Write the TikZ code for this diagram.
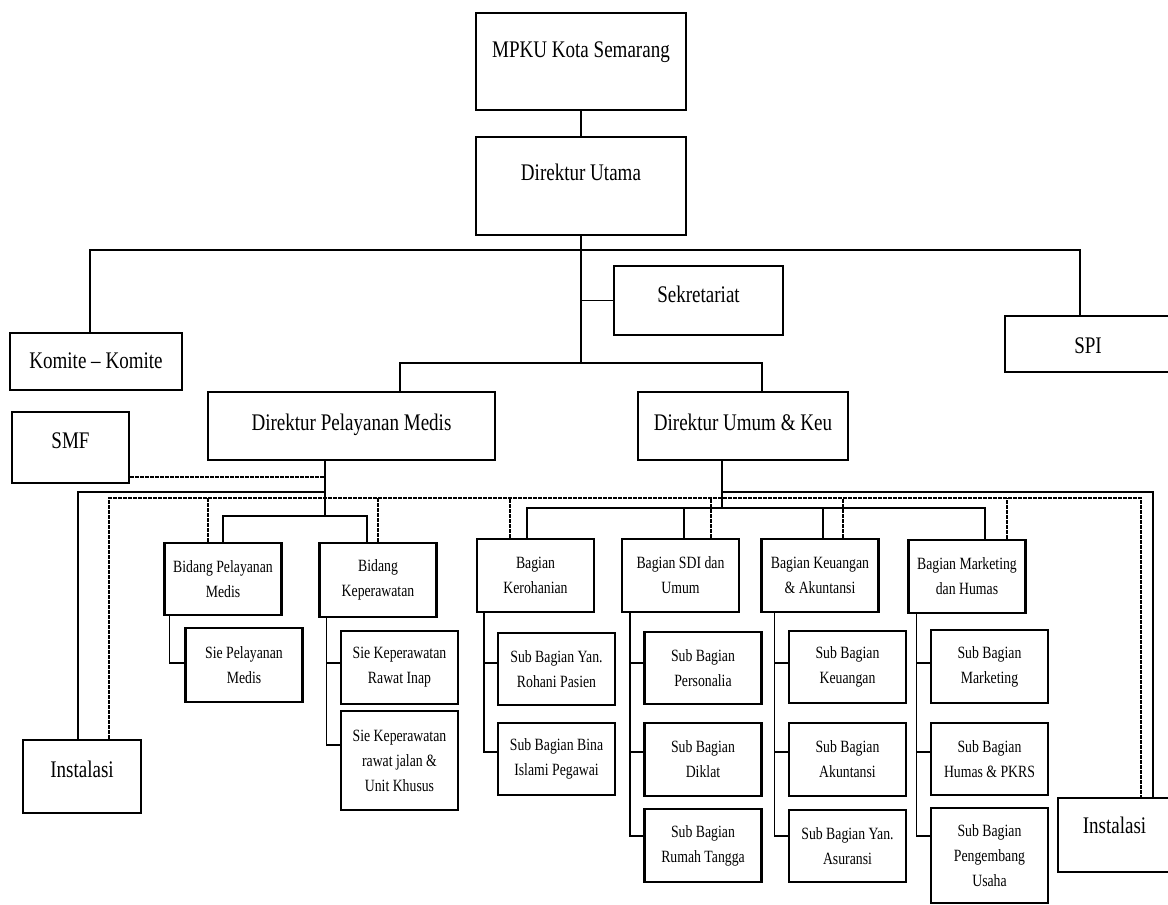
\documentclass[tikz,border=0pt]{standalone}
\usepackage{fontspec}
\setmainfont{Liberation Serif}[FakeStretch=0.8]

\begin{document}
\begin{tikzpicture}[x=0.5pt,y=-0.5pt]
      \tikzstyle{bigbox}=[draw=black,line width=1.2pt,inner xsep=2pt,inner ysep=0pt,font=\fontsize{11.9}{14}\selectfont];
      \tikzstyle{smallbox}=[draw=black,line width=1.2pt,inner sep=0pt,align=center,minimum width=58.5pt,font=\fontsize{8.6}{12.5}\selectfont];
      \tikzstyle{link}=[line width=0.7pt];
      \tikzstyle{dlink}=[line width=0.9pt,dash pattern=on 1.8pt off 0.7pt];

      \useasboundingbox (0,0) rectangle (1168,905);

      \node[bigbox,minimum width=105pt,text height=22pt,text depth=26.5pt](mpku) at (581,61.5) {MPKU Kota Semarang};
      \node[bigbox,minimum width=105pt,text height=21.5pt,text depth=27.5pt](dirut) at (581,186) {Direktur Utama};
      \node[bigbox,minimum width=84.5pt,text height=18pt,text depth=16.5pt](sekre) at (698.5,300.5) {Sekretariat};
      \node[bigbox,minimum width=86pt,text height=17.5pt,text depth=11pt](komite) at (96,361.5) {Komite – Komite};
      \node[bigbox,minimum width=83pt,text height=18.5pt,text depth=9.5pt](spi) at (1088,344) {SPI};
      \node[bigbox,minimum width=143.5pt,text height=19pt,text depth=15pt](dpm) at (351.5,426) {Direktur Pelayanan Medis};
      \node[bigbox,minimum width=105pt,text height=19pt,text depth=15pt](duk) at (743,426) {Direktur Umum \& Keu};
      \node[bigbox,minimum width=58.5pt,text height=18pt,text depth=17.5pt](smf) at (70.5,447.5) {SMF};
      \node[bigbox,minimum width=59pt,text height=18.5pt,text depth=18pt](inst1) at (82,776.5) {Instalasi};
      \node[bigbox,minimum width=56.5pt,text height=17.5pt,text depth=19.5pt](inst2) at (1114.5,835) {Instalasi};

      \node[smallbox,minimum height=36pt](bpm) at (223,579) {Bidang Pelayanan\\Medis};
      \node[smallbox,minimum height=37pt](bkep) at (378,580) {Bidang\\Keperawatan};
      \node[smallbox,minimum height=36.5pt](bkro) at (535.5,575.5) {Bagian\\Kerohanian};
      \node[smallbox,minimum height=36.5pt](bsdi) at (680.5,575.5) {Bagian SDI dan\\Umum};
      \node[smallbox,minimum height=36.5pt](bkeu) at (820,575.5) {Bagian Keuangan\\\& Akuntansi};
      \node[smallbox,minimum height=36.5pt](bmkt) at (967,576.5) {Bagian Marketing\\dan Humas};

      \node[smallbox,minimum height=37pt](siepm) at (244,665) {Sie Pelayanan\\Medis};
      \node[smallbox,minimum height=36.5pt](siekri) at (399.5,667.5) {Sie Keperawatan\\Rawat Inap};
      \node[smallbox,minimum height=49.5pt](siekrj) at (399.5,760.5) {Sie Keperawatan\\rawat jalan \&\\Unit Khusus};
      \node[smallbox,minimum height=36pt](sbyrp) at (556.5,669) {Sub Bagian Yan.\\Rohani Pasien};
      \node[smallbox,minimum height=36pt](sbbip) at (556.5,759) {Sub Bagian Bina\\Islami Pegawai};
      \node[smallbox,minimum height=36pt](sbper) at (703,668) {Sub Bagian\\Personalia};
      \node[smallbox,minimum height=36.5pt](sbdik) at (703,759.5) {Sub Bagian\\Diklat};
      \node[smallbox,minimum height=36.5pt](sbrt) at (703,845.5) {Sub Bagian\\Rumah Tangga};
      \node[smallbox,minimum height=36pt](sbkeu) at (847.5,667) {Sub Bagian\\Keuangan};
      \node[smallbox,minimum height=36.5pt](sbakt) at (847.5,759.5) {Sub Bagian\\Akuntansi};
      \node[smallbox,minimum height=36pt](sbasu) at (847.5,846) {Sub Bagian Yan.\\Asuransi};
      \node[smallbox,minimum height=36.5pt](sbmkt) at (989.5,666.5) {Sub Bagian\\Marketing};
      \node[smallbox,minimum height=36pt](sbhum) at (989.5,759) {Sub Bagian\\Humas \& PKRS};
      \node[smallbox,minimum height=47.5pt](sbpeng) at (989.5,855.5) {Sub Bagian\\Pengembang\\Usaha};

      \coordinate (top) at (581,250);
      \coordinate (bar) at (581,363);
      \coordinate (dpmj) at (325,516);
      \coordinate (dpml) at (325,492);
      \coordinate (smfj) at (325,477);
      \coordinate (dash) at (600,498);
      \coordinate (dukj) at (722,508);
      \coordinate (dukr) at (722,492);

      \draw[link] (mpku) -- (dirut);
      \draw[link] (dirut.south) -- (bar);
      \draw[link] ([xshift=-3pt]komite.north) |- (top) -| ([xshift=-4pt]spi.north);
      \draw[link] (sekre.west) -- (sekre.west -| bar);
      \draw[link] ([xshift=24.25pt]dpm.north) |- (bar) -| ([xshift=9.5pt]duk.north);

      \draw[link] (dpm.south -| dpmj) -- (dpmj);
      \draw[link] (bpm.north) |- (dpmj) -| ([xshift=-5.5pt]bkep.north);
      \draw[link] ([xshift=-2pt]inst1.north) |- (dpml);
      \draw[dlink] ([yshift=-14.75pt]smf.east) -- (smfj);
      \draw[dlink] ([xshift=13.5pt]inst1.north) |- (dash) -| ([xshift=13.25pt]inst2.north);
      \foreach \n/\s in {bpm/-7.5pt,bkep/0pt,bkro/-12.75pt,bsdi/15.25pt,bkeu/11.5pt,bmkt/20pt}
        \draw[dlink] ([xshift=\s]\n.north) -- ([xshift=\s]\n.north |- dash);

      \draw[link] (duk.south -| dukj) -- (dukj);
      \draw[link] (dukr) -| ([xshift=19.25pt]inst2.north);
      \draw[link] ([xshift=-4.25pt]bkro.north) |- (dukj) -| ([xshift=9pt]bmkt.north);
      \foreach \n/\s in {bsdi/1.75pt,bkeu/1.5pt}
        \draw[link] ([xshift=\s]\n.north) -- ([xshift=\s]\n.north |- dukj);

      \foreach \p/\c/\x/\y in {bpm/siepm/3pt/1pt,bkep/siekri/4pt/2.25pt,bkep/siekrj/4pt/7.75pt,
          bkro/sbyrp/4pt/3pt,bkro/sbbip/4pt/3.5pt,
          bsdi/sbper/4.5pt/2.5pt,bsdi/sbdik/4.5pt/3.75pt,bsdi/sbrt/4.5pt/4.75pt,
          bkeu/sbkeu/7pt/2pt,bkeu/sbakt/7pt/3.75pt,bkeu/sbasu/7pt/5pt,
          bmkt/sbmkt/4.5pt/1.75pt,bmkt/sbhum/4.5pt/3.5pt,bmkt/sbpeng/4.5pt/9.75pt}
        \draw[link] ([xshift=\x]\p.south west) |- ([yshift=\y]\c.west);

\end{tikzpicture}
\end{document}
